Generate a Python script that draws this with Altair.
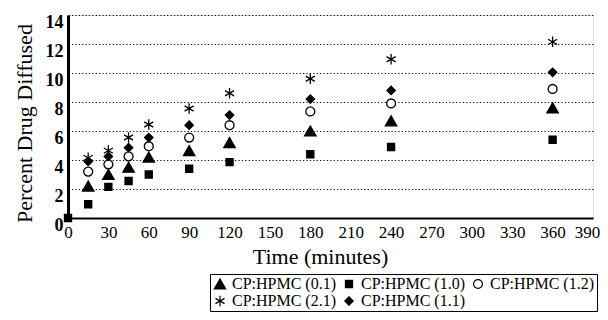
import altair as alt
import pandas as pd

times = [15, 30, 45, 60, 90, 120, 180, 240, 360]
series_names = ["CP:HPMC (0.1)", "CP:HPMC (1.0)", "CP:HPMC (1.2)", "CP:HPMC (2.1)", "CP:HPMC (1.1)"]
v01 = [2.2, 3.0, 3.5, 4.2, 4.65, 5.2, 6.0, 6.7, 7.6]
v10 = [0.95, 2.15, 2.55, 3.0, 3.4, 3.85, 4.4, 4.9, 5.4]
v12 = [3.2, 3.7, 4.25, 4.95, 5.55, 6.4, 7.35, 7.9, 8.9]
v21 = [4.15, 4.65, 5.55, 6.45, 7.55, 8.6, 9.6, 10.95, 12.15]
v11 = [3.9, 4.25, 4.85, 5.55, 6.4, 7.1, 8.2, 8.8, 10.05]
origin_time = [0]
origin_value = [0]
x_ticks = [0, 30, 60, 90, 120, 150, 180, 210, 240, 270, 300, 330, 360, 390]
y_ticks = [0, 2, 4, 6, 8, 10, 12, 14]

rows = []
for name, vals in zip(series_names, [v01, v10, v12, v21, v11]):
    for t, v in zip(times, vals):
        rows.append({"time": t, "value": v, "series": name})
for t, v in zip(origin_time, origin_value):
    rows.append({"time": t, "value": v, "series": "CP:HPMC (1.0)"})
df = pd.DataFrame(rows)

asterisk = "M0,-1L0,1M-0.866,-0.5L0.866,0.5M-0.866,0.5L0.866,-0.5"
shapes = ["triangle-up", "square", "circle", asterisk, "diamond"]
fills = ["#000000", "#000000", "#ffffff", "#000000", "#000000"]
sizes = [130, 50, 80, 110, 70]

font = "Liberation Serif"

chart = alt.Chart(df).mark_point(filled=True, opacity=1, stroke="#000000", strokeWidth=1.3).encode(
    x=alt.X("time:Q", scale=alt.Scale(domain=[0, 390], nice=False, zero=True),
            axis=alt.Axis(values=x_ticks, title="Time (minutes)", grid=False, ticks=False,
                          domainWidth=2, domainColor="#000", labelFontSize=17, labelFont=font,
                          labelPadding=6, titleFont=font, titleFontSize=22, titleFontWeight="normal",
                          titlePadding=6, titleX=252, labelColor="#000", titleColor="#000",
                          labelFlush=False,
                          labelOffset=alt.ExprRef("datum.value >= 390 ? -6 : 0"))),
    y=alt.Y("value:Q", scale=alt.Scale(domain=[0, 14], nice=False),
            axis=alt.Axis(values=y_ticks, title="Percent Drug Diffused", grid=True, ticks=False,
                          gridColor="#000", gridDash=[1.2, 2.2], gridWidth=1,
                          domainWidth=3, domainColor="#000", labelFontSize=18, labelFont=font,
                          labelFontWeight="bold", labelPadding=5, labelBaseline="top", labelOffset=-2,
                          titleFont=font, titleFontSize=22, titleY=108,
                          titleFontWeight="normal", titlePadding=9, labelColor="#000", titleColor="#000",
                          labelFlush=False)),
    shape=alt.Shape("series:N", scale=alt.Scale(domain=series_names, range=shapes),
                    legend=alt.Legend(title=None, orient="none", legendX=142, legendY=259,
                                      columns=3, direction="horizontal", strokeColor="#000",
                                      padding=2, labelFont=font, labelFontSize=16, labelColor="#000",
                                      columnPadding=4, rowPadding=1, labelOffset=4,
                                      symbolStrokeColor="#000", symbolStrokeWidth=1.2,
                                      symbolOpacity=1)),
    fill=alt.Fill("series:N", scale=alt.Scale(domain=series_names, range=fills)),
    size=alt.Size("series:N", scale=alt.Scale(type="ordinal", domain=series_names, range=sizes)),
).properties(
    width=525, height=203,
    autosize=alt.AutoSizeParams(type="none"),
    padding={"left": 60, "top": 7, "right": 7, "bottom": 94},
).configure_view(stroke="#000", strokeWidth=2).configure(background="#ffffff")

chart.save("out.html", embed_options={"renderer": "svg", "actions": False})
